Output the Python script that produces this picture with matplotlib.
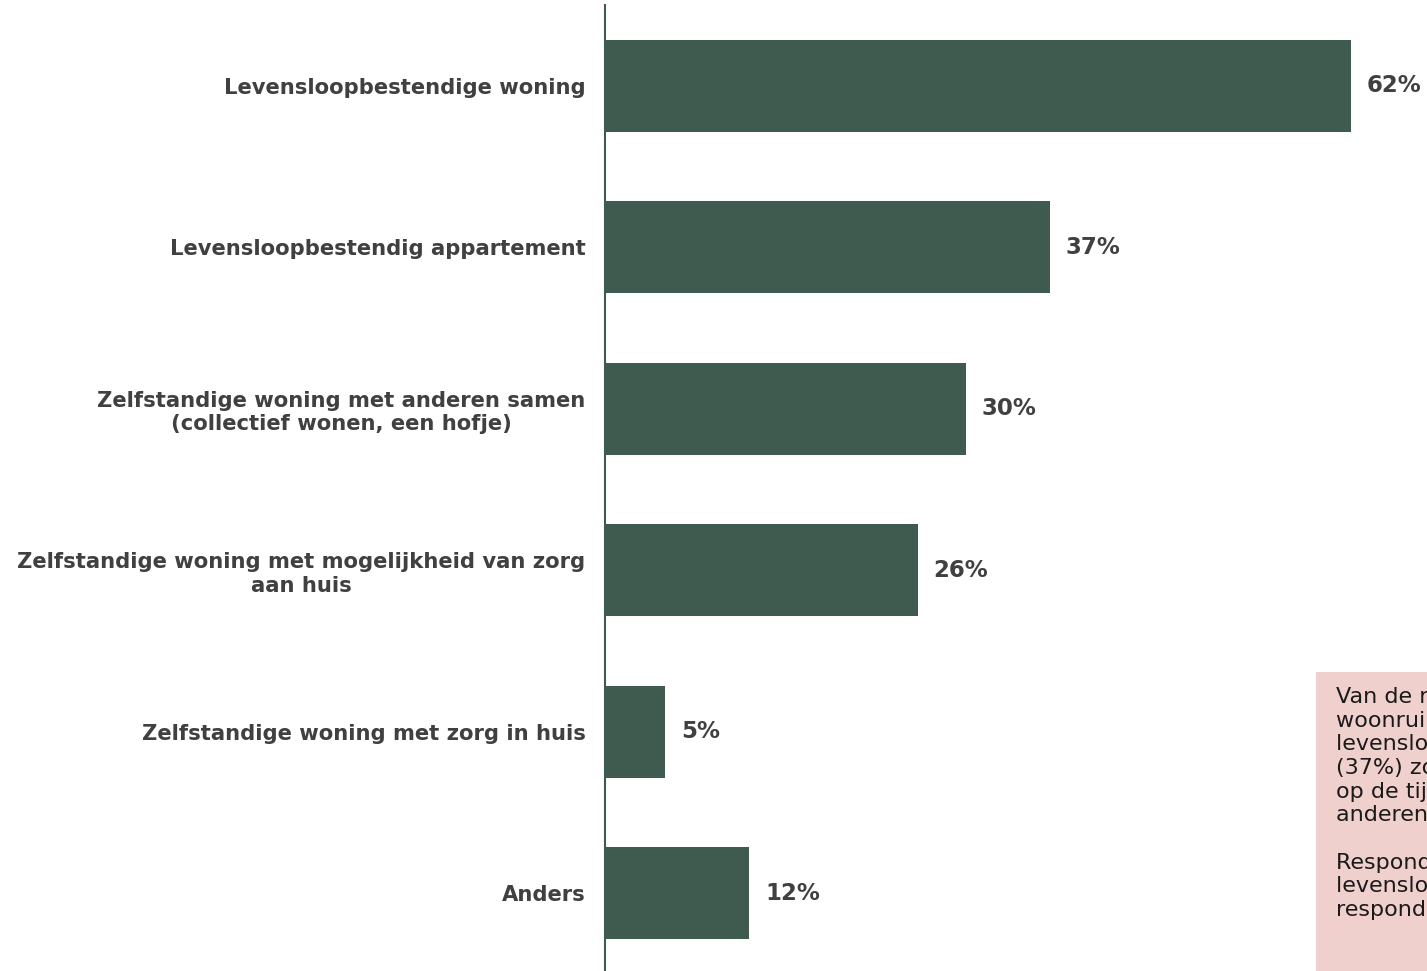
import matplotlib.pyplot as plt
from matplotlib.patches import Rectangle

categories = [
    "Levensloopbestendige woning",
    "Levensloopbestendig appartement",
    "Zelfstandige woning met anderen samen\n(collectief wonen, een hofje)",
    "Zelfstandige woning met mogelijkheid van zorg\naan huis",
    "Zelfstandige woning met zorg in huis",
    "Anders",
]
values = [62, 37, 30, 26, 5, 12]
value_labels = ["62%", "37%", "30%", "26%", "5%", "12%"]

note_lines = [
    "Van de respondenten die op zoek zijn naar",
    "woonruimte, wil een meerderheid (62%) een",
    "levensloopbestendige woning. Ruim een derde",
    "(37%) zoekt een levensloopbestendig appartement,",
    "op de tijd dat er zorg nodig is, of samen met",
    "anderen in een hofje.",
    "",
    "Respondenten die kiezen voor een",
    "levensloopbestendige woning zijn vaker",
    "respondenten van 65 jaar en ouder.",
]

bar_color = "#3f5b4f"
text_color = "#404040"

fig = plt.figure(figsize=(14.27, 9.71), dpi=100)
ax = fig.add_axes([605 / 1427, 0, 1 - 605 / 1427, 966 / 971])

pos = list(range(len(categories)))
ax.barh(pos, values, height=0.57, color=bar_color)
ax.set_xlim(0, 822 / 12.03)
ax.set_ylim(5.48, -0.5)

for p, v, lab in zip(pos, values, value_labels):
    ax.text(v + 1.3, p, lab, va="center", ha="left", fontsize=16.5,
            fontweight="bold", color=text_color)

ax.set_yticks(pos)
ax.set_yticklabels(categories, fontsize=15.2, fontweight="bold", color=text_color,
                   ha="right", multialignment="center")
ax.tick_params(axis="y", length=0, pad=14)
ax.set_xticks([])
for side in ["top", "right", "bottom"]:
    ax.spines[side].set_visible(False)
ax.spines["left"].set_color(bar_color)
ax.spines["left"].set_linewidth(1.5)

# pink note box, cut off at the right edge
fig.patches.append(Rectangle((1316 / 1427, 0), 0.2, (971 - 672) / 971,
                             transform=fig.transFigure, facecolor="#f0d0cc",
                             edgecolor="none", zorder=0))
fig.text(1336 / 1427, (971 - 687) / 971, "\n".join(note_lines), fontsize=16,
         color="#1a1a1a", va="top", ha="left", linespacing=1.23)

fig.savefig("out.png", dpi=100)
